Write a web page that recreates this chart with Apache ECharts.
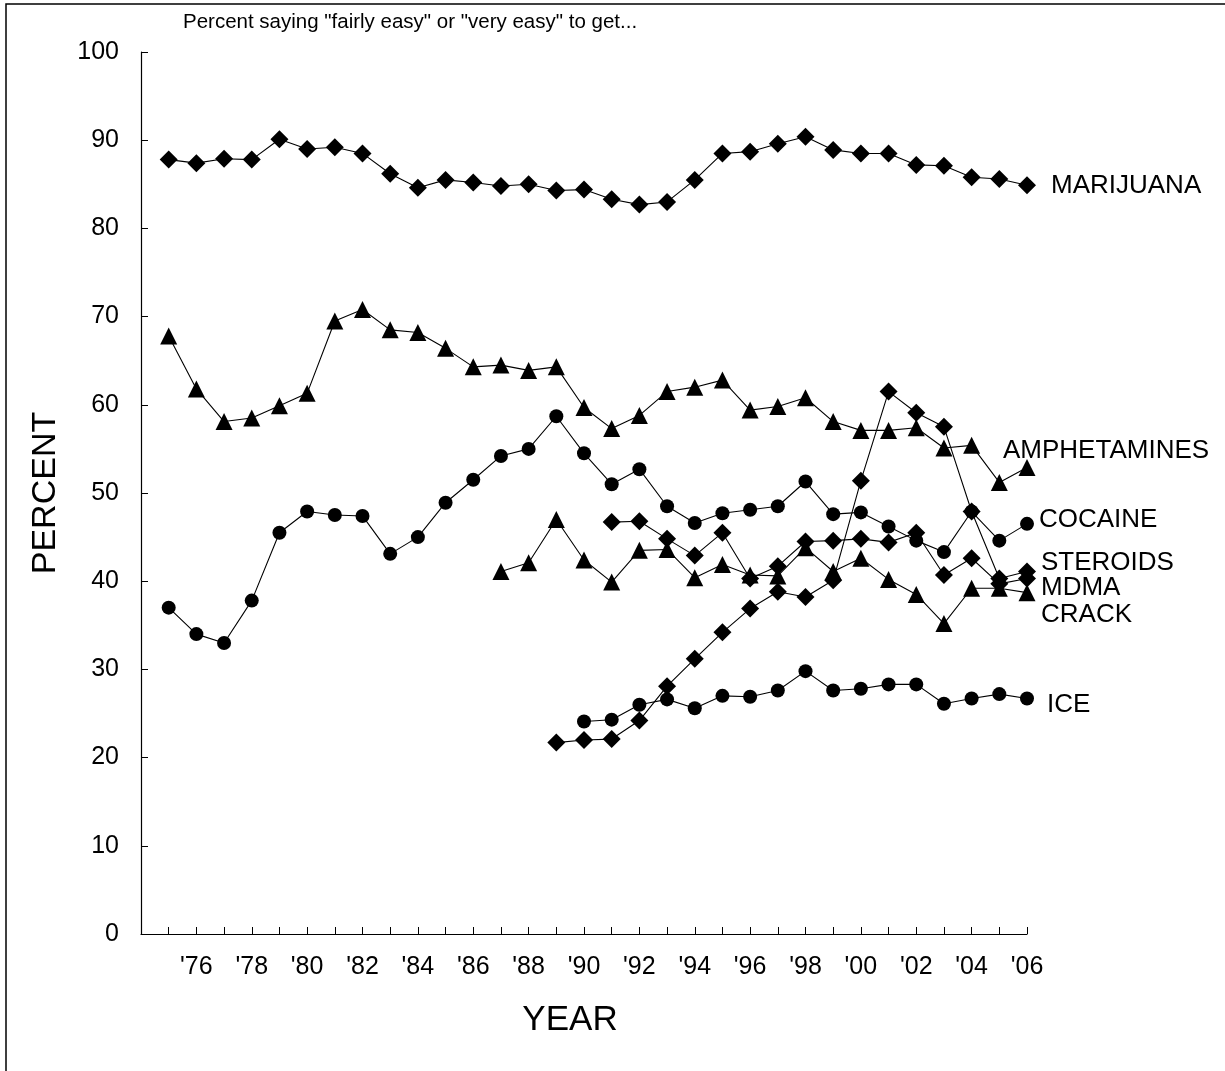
<!DOCTYPE html>
<html>
<head>
<meta charset="utf-8">
<title>Availability</title>
<script src="https://cdn.jsdelivr.net/npm/echarts@6/dist/echarts.min.js"></script>
<style>
  html, body { margin: 0; padding: 0; background: #fff; }
  #main { width: 1225px; height: 1071px; }
</style>
</head>
<body>
<div id="main"></div>
<script>
// years per series
var yearsAll = [1975, 1976, 1977, 1978, 1979, 1980, 1981, 1982, 1983, 1984, 1985, 1986, 1987, 1988, 1989, 1990,
                1991, 1992, 1993, 1994, 1995, 1996, 1997, 1998, 1999, 2000, 2001, 2002, 2003, 2004, 2005, 2006];
var yearsCrack = [1987, 1988, 1989, 1990, 1991, 1992, 1993, 1994, 1995, 1996, 1997, 1998, 1999, 2000, 2001, 2002, 2003, 2004, 2005, 2006];
var yearsMdma = [1989, 1990, 1991, 1992, 1993, 1994, 1995, 1996, 1997, 1998, 1999, 2000, 2001, 2002, 2003, 2004, 2005, 2006];
var yearsSteroids = [1991, 1992, 1993, 1994, 1995, 1996, 1997, 1998, 1999, 2000, 2001, 2002, 2003, 2004, 2005, 2006];
var yearsIce = [1990, 1991, 1992, 1993, 1994, 1995, 1996, 1997, 1998, 1999, 2000, 2001, 2002, 2003, 2004, 2005, 2006];

// percent saying fairly/very easy to get
var marijuana = [87.8, 87.4, 87.9, 87.8, 90.1, 89.0, 89.2, 88.5, 86.2, 84.6, 85.5, 85.2, 84.8, 85.0, 84.3, 84.4,
                 83.3, 82.7, 83.0, 85.5, 88.5, 88.7, 89.6, 90.4, 88.9, 88.5, 88.5, 87.2, 87.1, 85.8, 85.6, 84.9];
var amphetamines = [67.8, 61.8, 58.1, 58.5, 59.9, 61.3, 69.5, 70.8, 68.5, 68.2, 66.4, 64.3, 64.5, 63.9, 64.3, 59.7,
                    57.3, 58.8, 61.5, 62.0, 62.8, 59.4, 59.8, 60.8, 58.1, 57.1, 57.1, 57.4, 55.1, 55.4, 51.2, 52.9];
var cocaine = [37.0, 34.0, 33.0, 37.8, 45.5, 47.9, 47.5, 47.4, 43.1, 45.0, 48.9, 51.5, 54.2, 55.0, 58.7, 54.5,
               51.0, 52.7, 48.5, 46.6, 47.7, 48.1, 48.5, 51.3, 47.6, 47.8, 46.2, 44.6, 43.3, 47.9, 44.6, 46.5];
var crack = [41.1, 42.1, 47.0, 42.4, 39.9, 43.5, 43.6, 40.4, 41.9, 40.7, 40.6, 43.8, 41.1, 42.6, 40.2, 38.5, 35.2, 39.2, 39.2, 38.7];
var mdma = [21.7, 22.0, 22.1, 24.2, 28.1, 31.2, 34.2, 36.9, 38.8, 38.2, 40.1, 51.4, 61.5, 59.1, 57.5, 47.9, 40.3, 41.1];
var steroids = [46.7, 46.8, 44.8, 42.9, 45.5, 40.3, 41.7, 44.5, 44.6, 44.8, 44.4, 45.5, 40.7, 42.6, 39.7, 40.3];
var ice = [24.1, 24.3, 26.0, 26.6, 25.6, 27.0, 26.9, 27.6, 29.8, 27.6, 27.8, 28.3, 28.3, 26.1, 26.7, 27.2, 26.7];

var FONT = "'Liberation Sans', Arial, sans-serif";

function pairs(years, vals) {
	var out = [];
	for (var i = 0; i < vals.length; i++) out.push([years[i], vals[i]]);
	return out;
}

// one line series; lbl = [dx, dy] offset of the end label from the last point
function drug(name, years, vals, symbol, size, lbl) {
	return {
		name: name,
		type: 'line',
		data: pairs(years, vals),
		symbol: symbol,
		symbolSize: size,
		itemStyle: { color: '#000' },
		lineStyle: { color: '#000', width: 1.1 },
		endLabel: {
			show: true,
			formatter: name,
			distance: 0,
			offset: lbl,
			align: 'left',
			verticalAlign: 'middle',
			color: '#000',
			fontFamily: FONT,
			fontSize: 26
		}
	};
}

var myChart = echarts.init(document.getElementById('main'));
myChart.setOption({
	animation: false,
	backgroundColor: '#fff',
	textStyle: { fontFamily: FONT, color: '#000' },
	title: {
		text: 'Percent saying "fairly easy" or "very easy" to get...',
		left: 178, top: 7,
		textStyle: { fontFamily: FONT, fontSize: 20.5, fontWeight: 'normal', color: '#000' }
	},
	grid: { left: 141, right: 198, top: 52, bottom: 137 },
	xAxis: {
		type: 'value', min: 1974, max: 2006, interval: 1,
		name: 'YEAR', nameLocation: 'middle', nameGap: 69,
		nameTextStyle: { fontFamily: FONT, fontSize: 35, color: '#000', padding: [0, 28, 0, 0] },
		axisLine: { lineStyle: { color: '#000', width: 1.2 } },
		axisTick: { inside: true, length: 7, lineStyle: { color: '#000' } },
		axisLabel: {
			margin: 21, fontSize: 25, color: '#000', fontFamily: FONT,
			formatter: function (v) {
				if (v < 1975 || v % 2 !== 0) return '';
				return "'" + String(v).slice(2);
			}
		},
		splitLine: { show: false }
	},
	yAxis: {
		type: 'value', min: 0, max: 100, interval: 10,
		name: 'PERCENT', nameLocation: 'middle', nameGap: 78, nameRotate: 90,
		nameTextStyle: { fontFamily: FONT, fontSize: 34, color: '#000' },
		axisLine: { show: true, lineStyle: { color: '#000', width: 1.2 } },
		axisTick: { show: true, inside: true, length: 7, lineStyle: { color: '#000' } },
		axisLabel: { margin: 22, fontSize: 25, color: '#000', fontFamily: FONT },
		splitLine: { show: false }
	},
	graphic: [
		{ type: 'rect', shape: { x: 6, y: 4, width: 1400, height: 1200 },
		  style: { fill: 'none', stroke: '#000', lineWidth: 1.5 }, silent: true }
	],
	series: [
		drug('MARIJUANA', yearsAll, marijuana, 'diamond', 18, [24, 1]),
		drug('AMPHETAMINES', yearsAll, amphetamines, 'triangle', 17, [-24, -17]),
		drug('COCAINE', yearsAll, cocaine, 'circle', 14, [12, -4]),
		drug('CRACK', yearsCrack, crack, 'triangle', 17, [14, 22]),
		drug('MDMA', yearsMdma, mdma, 'diamond', 18, [14, 16]),
		drug('STEROIDS', yearsSteroids, steroids, 'diamond', 18, [14, -16]),
		drug('ICE', yearsIce, ice, 'circle', 14, [20, 6])
	]
});
</script>
</body>
</html>
